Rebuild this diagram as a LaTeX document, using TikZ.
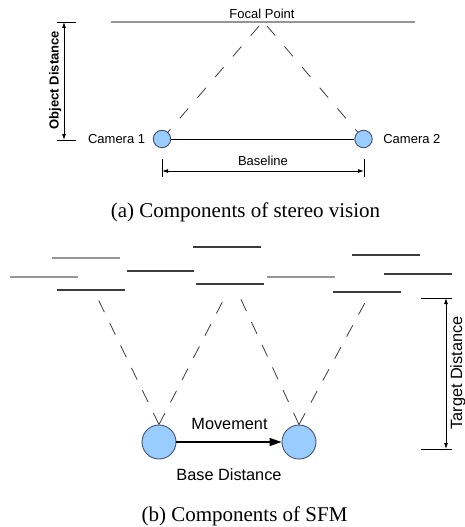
\documentclass[tikz,border=0pt]{standalone}
\usepackage{fontspec}
\setmainfont{Liberation Serif}
\setsansfont{Liberation Sans}
\usetikzlibrary{arrows.meta,positioning}

\definecolor{camblue}{RGB}{153,204,255}
\definecolor{camedge}{RGB}{70,80,110}
\definecolor{lightline}{RGB}{150,150,150}
\definecolor{darkline}{RGB}{60,60,60}

\begin{document}
\begin{tikzpicture}[x=1pt, y=-1pt,
        lbl/.style={font=\sffamily\fontsize{13}{15}\selectfont, inner sep=0pt},
        boldlbl/.style={font=\sffamily\bfseries\fontsize{13}{15}\selectfont, inner sep=0pt},
        biglbl/.style={font=\sffamily\fontsize{16.3}{19}\selectfont, inner sep=0pt},
        capt/.style={font=\fontsize{21}{24}\selectfont, inner sep=0pt, anchor=base},
        smallcam/.style={circle, draw=camedge, fill=camblue, line width=0.9pt, inner sep=0pt, minimum size=17.4pt},
        bigcam/.style={circle, draw=camedge, fill=camblue, line width=0.9pt, inner sep=0pt, minimum size=34pt},
        ray/.style={dash pattern=on 13pt off 12pt, draw=darkline, line width=0.8pt},
        dim/.style={line width=0.8pt, {Latex[length=6pt,width=4pt]}-{Latex[length=6pt,width=4pt]}},
        plane/.style={line width=1.2pt, draw=#1}]
        \useasboundingbox (0,0) rectangle (464,527);

        % stereo vision
        \draw[plane=lightline] (111,22) -- (415,22);
        \node[lbl, anchor=base] (focal) at (262,19) {Focal Point};
        \coordinate (fl) at (259,26);
        \coordinate (fr) at (267,26);
        \coordinate (c1) at (162,139);
        \coordinate (c2) at (363.5,139);
        \draw[ray, dash pattern=on 13pt off 14.2pt] (c1) -- (fl);
        \draw[ray, dash pattern=on 13pt off 14.2pt] (c2) -- (fr);
        \node[smallcam] (cam1) at (c1) {};
        \node[smallcam] (cam2) at (c2) {};
        \draw[line width=0.8pt] (cam1) -- (cam2);
        \node[lbl, left=7.5pt of cam1] (camlbl1) {Camera 1};
        \node[lbl, right=10.5pt of cam2] (camlbl2) {Camera 2};

        \coordinate (od1) at (64,22);
        \coordinate (od2) at (64,140);
        \draw[line width=0.8pt] (57,22) -- (76,22) (57,140) -- (76,140);
        \draw[dim] (od1) -- (od2);
        \node[boldlbl, rotate=90, anchor=base] (objdist) at (58.5,80) {Object Distance};

        \coordinate (bl1) at (162,171);
        \coordinate (bl2) at (364,171);
        \draw[line width=0.8pt] (162,159) -- (162,177) (364,159) -- (364,177);
        \draw[dim] (bl1) -- (bl2);
        \node[lbl, anchor=base] (baselbl) at (263,165) {Baseline};

        \node[capt] (capa) at (245.5,217) {(a)~Components of stereo vision};

        % SFM
        \draw[plane=lightline] (52,258) -- (120,258);
        \draw[plane=lightline] (10,277) -- (78,277);
        \draw[plane=darkline] (57,290) -- (125,290);
        \draw[plane=darkline] (127,271) -- (194,271);
        \draw[plane=darkline] (193,247) -- (261,247);
        \draw[plane=darkline] (196,284) -- (264,284);
        \draw[plane=lightline] (267,277) -- (335,277);
        \draw[plane=darkline] (352,255) -- (420,255);
        \draw[plane=darkline] (384,274) -- (452,274);
        \draw[plane=darkline] (333,292) -- (401,292);

        \node[bigcam] (camA) at (159,442) {};
        \node[bigcam] (camB) at (299,442) {};
        \coordinate (s1) at (98,299);
        \coordinate (s2) at (227,293);
        \coordinate (s3) at (238,293);
        \coordinate (s4) at (367,299);
        \draw[ray] (camA.north) -- (s1);
        \draw[ray] (camA.north) -- (s2);
        \draw[ray] (camB.north) -- (s3);
        \draw[ray] (camB.north) -- (s4);
        \draw[line width=1.3pt, -{Triangle[length=12pt,width=8pt]}] (camA) -- (camB);
        \node[biglbl, anchor=base] (move) at (229.5,429) {Movement};
        \node[biglbl, anchor=base] (basedist) at (229,480) {Base Distance};

        \coordinate (td1) at (446,298);
        \coordinate (td2) at (446,449);
        \draw[line width=0.8pt] (421,298) -- (452,298) (421,449) -- (452,449);
        \draw[dim] (td1) -- (td2);
        \node[biglbl, rotate=90, anchor=base] (tgt) at (462,373) {Target Distance};

        \node[capt] (capb) at (244.5,521) {(b)~Components of SFM};
\end{tikzpicture}
\end{document}
